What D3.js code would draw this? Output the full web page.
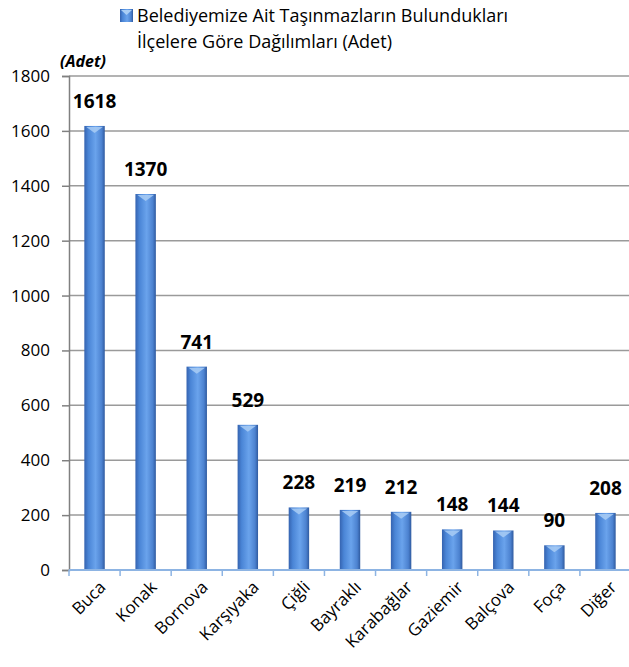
<!DOCTYPE html>
<html>
<head>
<meta charset="utf-8">
<script src="https://cdn.jsdelivr.net/npm/d3@7"></script>
<style>
  body { margin: 0; background: #fff; }
  svg { display: block; font-family: "Open Sans", sans-serif; }
  svg text { font-family: "Open Sans", sans-serif; }
</style>
</head>
<body>
<svg id="chart" width="629" height="667"></svg>
<script>
// Data
var districts = ['Buca', 'Konak', 'Bornova', 'Karşıyaka', 'Çiğli', 'Bayraklı',
                 'Karabağlar', 'Gaziemir', 'Balçova', 'Foça', 'Diğer'];
var counts = [1618, 1370, 741, 529, 228, 219, 212, 148, 144, 90, 208];
var yTicks = [0, 200, 400, 600, 800, 1000, 1200, 1400, 1600, 1800];
var legendLines = ['Belediyemize Ait Taşınmazların Bulundukları',
                   'İlçelere Göre Dağılımları (Adet)'];
var unitLabel = '(Adet)';

var svg = d3.select('#chart');

var x = d3.scaleBand()
    .domain(districts)
    .range([69, 631])
    .paddingInner(0.6)
    .paddingOuter(0.3);

var y = d3.scaleLinear()
    .domain([0, 1800])
    .range([570, 76]);

// Gradient for bars
var defs = svg.append('defs');
var grad = defs.append('linearGradient')
    .attr('id', 'barGrad')
    .attr('x1', 0).attr('x2', 1).attr('y1', 0).attr('y2', 0);
grad.append('stop').attr('offset', '0%').attr('stop-color', '#3563b0');
grad.append('stop').attr('offset', '20%').attr('stop-color', '#4a85d6');
grad.append('stop').attr('offset', '55%').attr('stop-color', '#6aa3ec');
grad.append('stop').attr('offset', '85%').attr('stop-color', '#4c82d0');
grad.append('stop').attr('offset', '100%').attr('stop-color', '#2f5a9f');

// Gridlines
svg.append('g')
    .attr('class', 'grid')
    .selectAll('line')
    .data(yTicks.filter(function (d) { return d > 0; }))
    .enter()
    .append('line')
    .attr('x1', 69)
    .attr('x2', 629)
    .attr('y1', function (d) { return y(d); })
    .attr('y2', function (d) { return y(d); })
    .attr('stroke', '#9a9a9a')
    .attr('stroke-width', 1.5);

// Y axis
var yAxis = svg.append('g')
    .attr('transform', 'translate(69,0)')
    .call(d3.axisLeft(y).tickValues(yTicks).tickFormat(d3.format('d'))
        .tickSize(7).tickPadding(12));
yAxis.attr('font-family', null);
yAxis.select('.domain').attr('stroke', '#808080').attr('stroke-width', 1.5);
yAxis.selectAll('.tick line').attr('stroke', '#808080').attr('stroke-width', 1.5);
yAxis.selectAll('.tick text')
    .attr('fill', '#000')
    .style('font-size', '17px');

// Bars
var bars = svg.append('g').attr('class', 'bars');
bars.selectAll('rect')
    .data(counts)
    .enter()
    .append('rect')
    .attr('x', function (d, i) { return x(districts[i]); })
    .attr('y', function (d) { return y(d); })
    .attr('width', x.bandwidth())
    .attr('height', function (d) { return y(0) - y(d); })
    .attr('fill', 'url(#barGrad)');

// Light cone tip at the top of each bar
bars.selectAll('path')
    .data(counts)
    .enter()
    .append('path')
    .attr('d', function (d, i) {
        var x0 = x(districts[i]) + 2, x1 = x(districts[i]) + x.bandwidth() - 2;
        var top = y(d) + 1;
        return 'M' + x0 + ',' + top + 'L' + x1 + ',' + top +
               'L' + ((x0 + x1) / 2) + ',' + (top + 6) + 'Z';
    })
    .attr('fill', '#a9cdf5')
    .attr('opacity', 0.85);

// Value labels
svg.append('g')
    .selectAll('text')
    .data(counts)
    .enter()
    .append('text')
    .attr('x', function (d, i) { return x(districts[i]) + x.bandwidth() / 2; })
    .attr('y', function (d) { return y(d) - 18; })
    .attr('text-anchor', 'middle')
    .style('font-size', '19px')
    .style('font-weight', 'bold')
    .text(function (d) { return d; });

// X axis
var xAxis = svg.append('g')
    .attr('transform', 'translate(0,570)')
    .call(d3.axisBottom(x).tickSize(0).tickPadding(0));
xAxis.attr('font-family', null);
xAxis.select('.domain').remove();
xAxis.append('line')
    .attr('x1', 69).attr('x2', 629)
    .attr('y1', 0).attr('y2', 0)
    .attr('stroke', '#8db4e3')
    .attr('stroke-width', 2);
xAxis.selectAll('line.sep')
    .data(districts)
    .enter()
    .append('line')
    .attr('class', 'sep')
    .attr('x1', function (d) { return x(d) - x.step() * x.paddingInner() / 2; })
    .attr('x2', function (d) { return x(d) - x.step() * x.paddingInner() / 2; })
    .attr('y1', 0).attr('y2', 6)
    .attr('stroke', '#8db4e3')
    .attr('stroke-width', 1.5);
xAxis.selectAll('.tick text')
    .attr('fill', '#000')
    .style('font-size', '17px')
    .attr('text-anchor', 'end')
    .attr('transform', 'translate(8,14) rotate(-45)')
    .attr('dy', '0.35em');

// Unit label
svg.append('text')
    .attr('x', 60)
    .attr('y', 67)
    .style('font-size', '16px')
    .style('font-weight', 'bold')
    .style('font-style', 'italic')
    .text(unitLabel);

// Legend
svg.append('rect')
    .attr('x', 120).attr('y', 9)
    .attr('width', 13).attr('height', 13)
    .attr('fill', 'url(#barGrad)');
svg.append('path')
    .attr('d', 'M121,10L132,10L126.5,15Z')
    .attr('fill', '#a9cdf5');
svg.append('g')
    .selectAll('text')
    .data(legendLines)
    .enter()
    .append('text')
    .attr('x', 137)
    .attr('y', function (d, i) { return 22 + i * 26; })
    .style('font-size', '18px')
    .text(function (d) { return d; });
</script>
</body>
</html>
